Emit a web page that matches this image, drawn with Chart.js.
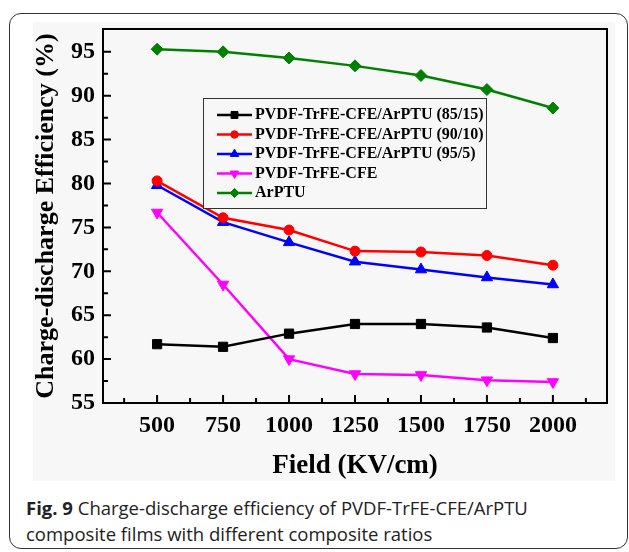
<!DOCTYPE html>
<html>
<head>
<meta charset="utf-8">
<script src="https://cdn.jsdelivr.net/npm/chart.js@4.4.1/dist/chart.umd.min.js"></script>
<style>
  body { margin: 0; background: #fff; }
  #wrap { position: relative; width: 629px; height: 552px; overflow: hidden; }
  #frame {
    position: absolute; left: 9px; top: 13px; width: 617px; height: 534px;
    border: 1.5px solid #333; border-radius: 12px;
  }
  #shade { position: absolute; left: 33px; top: 22px; width: 582px; height: 459px; background: #f7f7f7; }
  #c { position: absolute; left: 0; top: 0; }
  #caption {
    position: absolute; left: 26px; top: 495px; width: 595px;
    font-family: "Open Sans", sans-serif; font-size: 18.5px; line-height: 26px; color: #222;
  }
</style>
</head>
<body>
<div id="wrap">
  <div id="shade"></div>
  <div id="frame"></div>
  <canvas id="c" width="629" height="490"></canvas>
  <div id="caption"><b>Fig. 9</b> Charge-discharge efficiency of PVDF-TrFE-CFE/ArPTU<br>composite films with different composite ratios</div>
</div>

<script>
// values
const fields = [500, 750, 1000, 1250, 1500, 1750, 2000]
const eff85_15 = [61.7, 61.4, 62.9, 64.0, 64.0, 63.6, 62.4]
const eff90_10 = [80.3, 76.1, 74.7, 72.3, 72.2, 71.8, 70.7]
const eff95_5 = [79.8, 75.6, 73.3, 71.1, 70.2, 69.3, 68.5]
const effPure = [76.7, 68.5, 60.0, 58.3, 58.2, 57.6, 57.4]
const effArPTU = [95.3, 95.0, 94.3, 93.4, 92.3, 90.7, 88.6]

const xTicks = [500, 750, 1000, 1250, 1500, 1750, 2000]
const xMinor = [375, 625, 875, 1125, 1375, 1625, 1875, 2125]
const yTicks = [55, 60, 65, 70, 75, 80, 85, 90, 95]
const yMinor = [57.5, 62.5, 67.5, 72.5, 77.5, 82.5, 87.5, 92.5, 97.5]

const serif = '"Liberation Serif", "Times New Roman", serif'

function series(label, values, color, style, radius, rotation) {
  return {
    label: label,
    data: fields.map((f, i) => ({ x: f, y: values[i] })),
    borderColor: color,
    backgroundColor: color,
    borderWidth: 2.5,
    pointStyle: style,
    pointRadius: radius,
    pointRotation: rotation || 0,
    pointBorderWidth: 1,
    tension: 0
  }
}

// frame round the plot + ticks pointing inward
const boxAndTicks = {
  id: 'boxAndTicks',
  afterDraw(chart) {
    const ctx = chart.ctx
    const a = chart.chartArea
    const x = chart.scales.x
    const y = chart.scales.y
    ctx.save()
    ctx.strokeStyle = '#000'
    ctx.lineWidth = 2
    ctx.strokeRect(a.left, a.top, a.right - a.left, a.bottom - a.top)
    ctx.beginPath()
    yTicks.forEach(v => { const p = y.getPixelForValue(v); ctx.moveTo(a.left, p); ctx.lineTo(a.left + 8, p) })
    yMinor.forEach(v => { const p = y.getPixelForValue(v); if (p > a.top + 2) { ctx.moveTo(a.left, p); ctx.lineTo(a.left + 5, p) } })
    xTicks.forEach(v => { const p = x.getPixelForValue(v); ctx.moveTo(p, a.bottom); ctx.lineTo(p, a.bottom - 8) })
    xMinor.forEach(v => { const p = x.getPixelForValue(v); ctx.moveTo(p, a.bottom); ctx.lineTo(p, a.bottom - 5) })
    ctx.stroke()
    ctx.restore()
  }
}

// legend box inside the plot
const boxLegend = {
  id: 'boxLegend',
  afterDraw(chart) {
    const ctx = chart.ctx
    const left = 203, top = 98, w = 283, h = 110
    ctx.save()
    ctx.fillStyle = '#f7f7f7'
    ctx.fillRect(left, top, w, h)
    ctx.strokeStyle = '#333'
    ctx.lineWidth = 1
    ctx.strokeRect(left + 0.5, top + 0.5, w, h)
    ctx.font = 'bold 16px ' + serif
    ctx.textBaseline = 'middle'
    chart.data.datasets.forEach((ds, i) => {
      const cy = 115 + i * 19.5
      ctx.strokeStyle = ds.borderColor
      ctx.lineWidth = 2.5
      ctx.beginPath()
      ctx.moveTo(217, cy)
      ctx.lineTo(252, cy)
      ctx.stroke()
      ctx.fillStyle = ds.backgroundColor
      ctx.lineWidth = 1
      Chart.helpers.drawPoint(ctx, { pointStyle: ds.pointStyle, radius: ds.pointRadius * 0.75, rotation: ds.pointRotation, borderWidth: 1 }, 234.5, cy)
      ctx.fillStyle = '#000'
      ctx.fillText(ds.label, 255, cy)
    })
    ctx.restore()
  }
}

new Chart(document.getElementById('c'), {
  type: 'line',
  data: {
    datasets: [
      series('PVDF-TrFE-CFE/ArPTU (85/15)', eff85_15, '#000000', 'rect', 6.5),
      series('PVDF-TrFE-CFE/ArPTU (90/10)', eff90_10, '#ff0000', 'circle', 5),
      series('PVDF-TrFE-CFE/ArPTU (95/5)', eff95_5, '#0000ff', 'triangle', 6.5),
      series('PVDF-TrFE-CFE', effPure, '#ff00ff', 'triangle', 6.5, 180),
      series('ArPTU', effArPTU, '#008000', 'rectRot', 6)
    ]
  },
  options: {
    responsive: false,
    animation: false,
    layout: { padding: { left: 0, top: 29, right: 22, bottom: 0 } },
    plugins: { legend: { display: false }, tooltip: { enabled: false } },
    scales: {
      x: {
        type: 'linear',
        min: 295,
        max: 2205,
        grid: { display: false, drawTicks: false },
        border: { display: true, color: '#000', width: 2 },
        afterBuildTicks: s => { s.ticks = xTicks.map(v => ({ value: v })) },
        afterFit: s => { s.height = 87 },
        ticks: {
          color: '#000', padding: 8, maxRotation: 0,
          font: { family: serif, size: 24, weight: 'bold' },
          callback: v => String(v)
        },
        title: {
          display: true, text: 'Field (KV/cm)', color: '#000',
          padding: { top: 0, bottom: 8 },
          font: { family: serif, size: 27, weight: 'bold' }
        }
      },
      y: {
        min: 55,
        max: 97.6,
        grid: { display: false, drawTicks: false },
        border: { display: true, color: '#000', width: 2 },
        afterBuildTicks: s => { s.ticks = yTicks.map(v => ({ value: v })) },
        afterFit: s => { s.width = 103 },
        ticks: { color: '#000', padding: 8, font: { family: serif, size: 24, weight: 'bold' } },
        title: {
          display: true, text: 'Charge-discharge Efficiency (%)', color: '#000',
          padding: { top: 31, bottom: 0 },
          font: { family: serif, size: 26, weight: 'bold' }
        }
      }
    }
  },
  plugins: [boxAndTicks, boxLegend]
})
</script>
</body>
</html>
